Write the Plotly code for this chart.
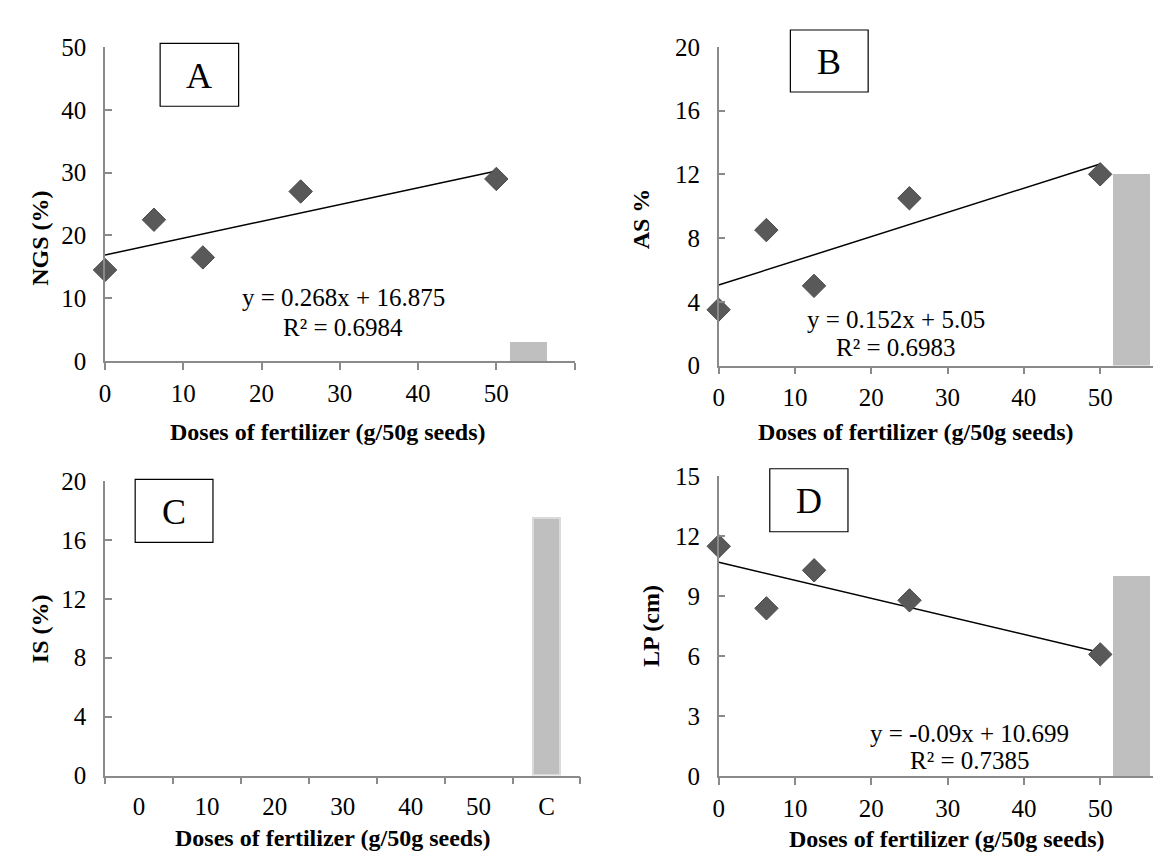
import plotly.graph_objects as go

W, H = 1161, 859

# ---------------- data ----------------
doses = [0, 6.25, 12.5, 25, 50]
ngs = [14.5, 22.5, 16.5, 27.0, 29.0]
as_pct = [3.5, 8.5, 5.0, 10.5, 12.0]
lp_cm = [11.5, 8.4, 10.3, 8.8, 6.1]

fit_A = (0.268, 16.875)
fit_B = (0.152, 5.05)
fit_D = (-0.09, 10.699)
fit_x = [0, 50]

control_x = 54.1
control_width = 4.8
control_A = 3.0
control_B = 12.0
control_D = 10.0

c_categories = ["0", "10", "20", "30", "40", "50", "C"]
c_values = [None, None, None, None, None, None, 17.5]

eq_A = ["y = 0.268x + 16.875", "R² = 0.6984"]
eq_B = ["y = 0.152x + 5.05", "R² = 0.6983"]
eq_D = ["y = -0.09x + 10.699", "R² = 0.7385"]

y_titles = ["NGS (%)", "AS %", "IS (%)", "LP (cm)"]
x_title = "Doses of fertilizer (g/50g seeds)"
panel_letters = ["A", "B", "C", "D"]

# ---------------- styles ----------------
FONT = "Liberation Serif, Times New Roman, Times, serif"
AXC = "#8a8a8a"
MK = "#595959"
BARC = "#bfbfbf"


def px(x):
    return x / W


def py(y):
    return 1 - y / H


fig = go.Figure()

# panel geometry in pixels: (x0, x1, ytop, ybottom)
geo = {
    "A": (91.5, 563.5, 27.0, 351.0),
    "B": (708.3, 1161.0, 26.7, 355.7),
    "C": (91.5, 569.4, 475.0, 779.0),
    "D": (708.4, 1161.0, 470.0, 780.0),
}
axis_ids = {"A": ("x", "y"), "B": ("x2", "y2"), "C": ("x3", "y3"), "D": ("x4", "y4")}


def fit_line(fit):
    return [fit[0] * v + fit[1] for v in fit_x]


def add_scatter_panel(key, yvals, fit, ctrl):
    xa, ya = axis_ids[key]
    fig.add_trace(go.Bar(x=[control_x], y=[ctrl], width=[control_width],
                         marker=dict(color=BARC, line=dict(width=0)),
                         xaxis=xa, yaxis=ya, showlegend=False))
    fig.add_trace(go.Scatter(x=fit_x, y=fit_line(fit), mode="lines",
                             line=dict(color="black", width=1.5),
                             xaxis=xa, yaxis=ya, showlegend=False))
    fig.add_trace(go.Scatter(x=doses, y=yvals, mode="markers",
                             marker=dict(symbol="diamond", size=18, color=MK,
                                         line=dict(color="#4a4a4a", width=1)),
                             xaxis=xa, yaxis=ya, showlegend=False, cliponaxis=False))


add_scatter_panel("A", ngs, fit_A, control_A)
add_scatter_panel("B", as_pct, fit_B, control_B)
add_scatter_panel("D", lp_cm, fit_D, control_D)

fig.add_trace(go.Bar(x=c_categories, y=c_values, width=0.4,
                     marker=dict(color=BARC, line=dict(color="#dadada", width=2)),
                     xaxis="x3", yaxis="y3", showlegend=False))

tick_font = dict(family=FONT, size=25, color="black")


def xaxis_num(key, rng, tickvals, ticktext):
    x0, x1, yt, yb = geo[key]
    _, ya = axis_ids[key]
    return dict(domain=[px(x0), px(x1)], range=rng, anchor=ya,
                tickmode="array", tickvals=tickvals, ticktext=ticktext,
                showgrid=False, zeroline=False, showline=True, linecolor=AXC, linewidth=1.5,
                ticks="outside", ticklen=7, tickcolor=AXC, tickwidth=1.5,
                tickfont=tick_font, ticklabelstandoff=2, fixedrange=True)


def yaxis_num(key, rng, dtick):
    x0, x1, yt, yb = geo[key]
    xa, _ = axis_ids[key]
    return dict(domain=[py(yb), py(yt)], range=rng, anchor=xa,
                tickmode="linear", tick0=0, dtick=dtick,
                showgrid=False, zeroline=False, showline=True, linecolor=AXC, linewidth=1.5,
                ticks="inside", ticklen=7, tickcolor=AXC, tickwidth=1.5,
                tickfont=tick_font, ticklabelstandoff=12, fixedrange=True)


xA = xaxis_num("A", [0, 60], [0, 10, 20, 30, 40, 50, 60], ["0", "10", "20", "30", "40", "50", ""])
xB = xaxis_num("B", [0, (1161 - 708.3) / 7.67], [0, 10, 20, 30, 40, 50], ["0", "10", "20", "30", "40", "50"])
xD = xaxis_num("D", [0, (1161 - 708.4) / 7.67], [0, 10, 20, 30, 40, 50], ["0", "10", "20", "30", "40", "50"])

x0, x1, yt, yb = geo["C"]
xC = dict(domain=[px(x0), px(x1)], type="category", categoryorder="array",
          categoryarray=c_categories, range=[-0.5, 6.5], anchor="y3",
          showgrid=False, zeroline=False, showline=True, linecolor=AXC, linewidth=1.5,
          ticks="outside", ticklen=7, tickcolor=AXC, tickwidth=1.5, tickson="boundaries",
          tickfont=tick_font, ticklabelstandoff=8, fixedrange=True)

fig.update_layout(
    width=W, height=H,
    margin=dict(l=0, r=0, t=0, b=0),
    paper_bgcolor="white", plot_bgcolor="rgba(0,0,0,0)",
    showlegend=False, bargap=0,
    xaxis=xA, yaxis=yaxis_num("A", [0, 50], 10),
    xaxis2=xB, yaxis2=yaxis_num("B", [0, 20], 4),
    xaxis3=xC, yaxis3=yaxis_num("C", [0, 20], 4),
    xaxis4=xD, yaxis4=yaxis_num("D", [0, 15], 3),
)

annotations = []
shapes = []


def text(x, y, s, size=25, bold=False, angle=0):
    annotations.append(dict(
        x=px(x), y=py(y), xref="paper", yref="paper", text=("<b>%s</b>" % s) if bold else s,
        showarrow=False, xanchor="center", yanchor="middle", textangle=angle,
        font=dict(family=FONT, size=size, color="black")))


# equations
text(331, 285, eq_A[0]); text(331, 316, eq_A[1])
text(886.7, 308, eq_B[0]); text(886.7, 337.3, eq_B[1])
text(960.6, 736, eq_D[0]); text(960.6, 763.3, eq_D[1])

# axis titles
text(26, 224, y_titles[0], size=24, bold=True, angle=-90)
text(630, 204, y_titles[1], size=24, bold=True, angle=-90)
text(26, 627, y_titles[2], size=24, bold=True, angle=-90)
text(641, 625, y_titles[3], size=24, bold=True, angle=-90)
text(315.6, 424, x_title, size=24, bold=True)
text(906.6, 424, x_title, size=24, bold=True)
text(320, 843, x_title, size=24, bold=True)
text(937, 845, x_title, size=24, bold=True)

# panel letter boxes
boxes = [(146.9, 225.8, 23, 88), (780.4, 858.6, 9.3, 73.3),
         (121.8, 200, 473.3, 538.3), (759.7, 838.3, 462.3, 527.3)]
for letter, (bx0, bx1, by0, by1) in zip(panel_letters, boxes):
    shapes.append(dict(type="rect", xref="paper", yref="paper",
                       x0=px(bx0), x1=px(bx1), y0=py(by1), y1=py(by0),
                       line=dict(color="black", width=1.2), fillcolor="white"))
    text((bx0 + bx1) / 2, (by0 + by1) / 2 + 1, letter, size=36)

fig.update_layout(annotations=annotations, shapes=shapes)

fig.write_html("out.html")
